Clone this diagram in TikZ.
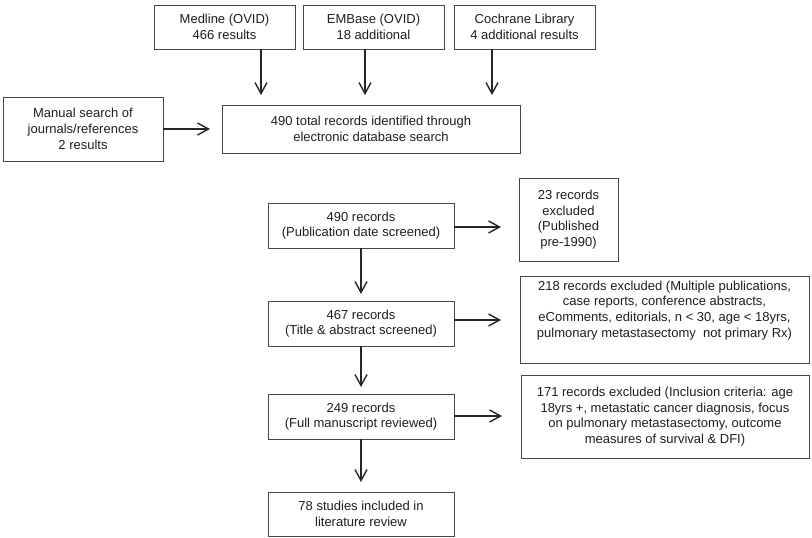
\documentclass[tikz,border=0pt]{standalone}
\usepackage{fontspec}
\setmainfont{Liberation Sans}
\usetikzlibrary{arrows.meta}
\newcommand\liftbox[2]{\raisebox{#1}[\height][\depth]{#2}}
\begin{document}
\begin{tikzpicture}[x=1pt,y=-1pt,
  box/.style={draw=black!72,line width=0.9pt,inner sep=0pt,align=center,
    text=black!88,font=\fontsize{13}{15.7}\selectfont},
  arr/.style={draw=black!85,line width=1.4pt,
    -{Straight Barb[length=11pt,width=12pt,line width=1.4pt]}}]
\fill[white] (0,0) rectangle (812,538);
\useasboundingbox (0,0) rectangle (812,538);

% top sources
\node[box,minimum width=141pt,minimum height=44pt] (medline) at (224.5,27) {Medline (OVID)\\466 results};
\node[box,minimum width=141pt,minimum height=44pt] (embase) at (373.5,27) {EMBase (OVID)\\18 additional};
\node[box,minimum width=141pt,minimum height=44pt] (cochrane) at (524.5,27) {Cochrane Library\\4 additional results};
\node[box,minimum width=160pt,minimum height=64pt] (manual) at (83,129) {Manual search of\\journals/references\\2 results};
\node[box,minimum width=298pt,minimum height=48pt] (total) at (371,129) {490 total records identified through\\electronic database search};

% main chain
\node[box,minimum width=186pt,minimum height=45pt] (r490) at (361,225.5) {490 records\\(Publication date screened)};
\node[box,minimum width=186pt,minimum height=45pt] (r467) at (361,323.5) {467 records\\(Title \& abstract screened)};
\node[box,minimum width=186pt,minimum height=45pt] (r249) at (361,416.5) {249 records\\(Full manuscript reviewed)};
\node[box,minimum width=186pt,minimum height=44pt] (r78) at (361,514) {78 studies included in\\literature review};

% exclusions
\node[box,minimum width=99pt,minimum height=83pt] (ex23) at (568.5,219.5) {23 records\\excluded\\(Published\\pre-1990)};
\node[box,minimum width=289pt,minimum height=87pt] (ex218) at (664.5,319.5) {\liftbox{9pt}{\begin{tabular}{@{}c@{}}218 records excluded (Multiple publications,\\case reports, conference abstracts,\\eComments, editorials, n < 30, age < 18yrs,\\pulmonary metastasectomy\ \ not primary Rx)\end{tabular}}};
\node[box,minimum width=288pt,minimum height=83pt] (ex171) at (665,416.5) {171 records excluded (Inclusion criteria: age\\18yrs +, metastatic cancer diagnosis, focus\\on pulmonary metastasectomy, outcome\\measures of survival \& DFI)};

% arrow tips
\coordinate (t1) at (261,95);
\coordinate (t2) at (365,95);
\coordinate (t3) at (492,95);
\coordinate (t4) at (210,129);
\coordinate (t5) at (501,227);
\coordinate (t6) at (361,294);
\coordinate (t7) at (501,320);
\coordinate (t8) at (361,387);
\coordinate (t9) at (502,416);
\coordinate (t10) at (361,482);

\draw[arr] (medline.south -| t1) -- (t1);
\draw[arr] (embase.south -| t2) -- (t2);
\draw[arr] (cochrane.south -| t3) -- (t3);
\draw[arr] (manual.east |- t4) -- (t4);
\draw[arr] (r490.east |- t5) -- (t5);
\draw[arr] (r490.south) -- (t6);
\draw[arr] (r467.east |- t7) -- (t7);
\draw[arr] (r467.south) -- (t8);
\draw[arr] (r249.east |- t9) -- (t9);
\draw[arr] (r249.south) -- (t10);
\end{tikzpicture}
\end{document}
